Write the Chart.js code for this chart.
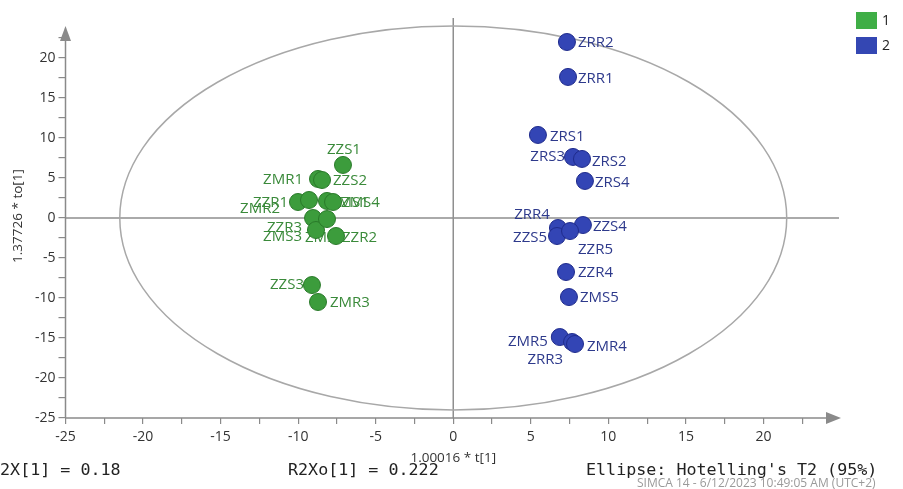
<!DOCTYPE html>
<html>
<head>
<meta charset="utf-8">
<script src="https://cdn.jsdelivr.net/npm/chart.js@4/dist/chart.umd.min.js"></script>
<style>
html,body{margin:0;padding:0;background:#fff;}
#wrap{position:relative;width:903px;height:489px;}
</style>
</head>
<body>
<div id="wrap"><canvas id="c" width="903" height="489"></canvas></div>
<script>
// ---- data ----
const group1Names = ['ZZS1','ZMR1','ZZS2','ZMR2','ZZR1','ZMS1','ZMS4','ZZR3','ZMS3','ZMS2','ZZR2','ZZS3','ZMR3'];
const group1X = [-7.11,-8.72,-8.46,-10.01,-9.30,-8.14,-7.75,-9.04,-8.85,-8.14,-7.56,-9.11,-8.72];
const group1Y = [6.63,4.88,4.75,2.0,2.25,2.13,2.0,0.0,-1.5,-0.13,-2.25,-8.38,-10.5];

const group2Names = ['ZRR2','ZRR1','ZRS1','ZRS3','ZRS2','ZRS4','ZRR4','ZZS4','ZZS5','ZZR5','ZZR4','ZMS5','ZMR5','ZRR3','ZMR4'];
const group2X = [7.33,7.40,5.46,7.72,8.30,8.49,6.75,8.36,6.69,7.53,7.27,7.46,6.87,7.66,7.85];
const group2Y = [22.0,17.63,10.38,7.63,7.38,4.63,-1.25,-0.88,-2.25,-1.63,-6.75,-9.88,-14.88,-15.5,-15.75];

const legendLabels = ['1','2'];
const xTitle = '1.00016 * t[1]';
const yTitle = '1.37726 * to[1]';
const footerTexts = ['R2X[1] = 0.18','R2Xo[1] = 0.222',"Ellipse: Hotelling's T2 (95%)"];
const stampText = 'SIMCA 14 - 6/12/2023 10:49:05 AM (UTC+2)';
const ellipseRX = 21.5, ellipseRY = 24;
const axisMin = -25, axisMax = 25;

// ---- label placement (layout only) ----
const labelPlace = {
  ZZS1:[-16,-15,'left'], ZMR1:[-15,1,'right'], ZZS2:[11,1,'left'], ZMR2:[-18,7,'right'],
  ZZR1:[-21,3,'right'], ZMS1:[3,2,'left'], ZMS4:[8,1,'left'], ZZR3:[-11,10,'right'],
  ZMS3:[-14,7,'right'], ZMS2:[-22,19,'left'], ZZR2:[6,2,'left'], ZZS3:[-8,0,'right'], ZMR3:[12,1,'left'],
  ZRR2:[11,1,'left'], ZRR1:[10,2,'left'], ZRS1:[12,2,'left'], ZRS3:[-8,0,'right'], ZRS2:[10,3,'left'],
  ZRS4:[10,2,'left'], ZRR4:[-8,-13,'right'], ZZS4:[10,2,'left'], ZZS5:[-10,2,'right'], ZZR5:[8,19,'left'],
  ZZR4:[12,1,'left'], ZMS5:[11,1,'left'], ZMR5:[-12,5,'right'], ZRR3:[-9,18,'right'], ZMR4:[12,3,'left']
};

const GREEN = '#3c9c3c', GREEN_BORDER = '#2a7a2a', GREEN_TEXT = '#3a8a3a', GREEN_LEG = '#3fae46';
const BLUE = '#3345b5', BLUE_BORDER = '#1f2b8c', BLUE_TEXT = '#2e3a8c', BLUE_LEG = '#3447b3';
const AXIS = '#8a8a8a';
const SANS = '"Open Sans", "Noto Sans", sans-serif';

function toPts(xs, ys, names){ return xs.map((x,i)=>({x:x, y:ys[i], name:names[i]})); }

const decor = {
  id:'decor',
  beforeDatasetsDraw(chart){
    const ctx = chart.ctx, xs = chart.scales.x, ys = chart.scales.y, a = chart.chartArea;
    ctx.save();
    // crosshair
    ctx.strokeStyle = '#8f8f8f'; ctx.lineWidth = 1.5;
    ctx.beginPath();
    ctx.moveTo(xs.getPixelForValue(0), a.top); ctx.lineTo(xs.getPixelForValue(0), a.bottom);
    ctx.moveTo(a.left, ys.getPixelForValue(0)); ctx.lineTo(a.right-2, ys.getPixelForValue(0));
    ctx.stroke();
    // ellipse
    const cx = xs.getPixelForValue(0), cy = ys.getPixelForValue(0);
    const rx = xs.getPixelForValue(ellipseRX) - cx, ry = cy - ys.getPixelForValue(ellipseRY);
    ctx.strokeStyle = '#a8a8a8'; ctx.lineWidth = 1.5;
    ctx.beginPath(); ctx.ellipse(cx, cy, rx, ry, 0, 0, Math.PI*2); ctx.stroke();
    // axes with arrows
    ctx.strokeStyle = AXIS; ctx.fillStyle = AXIS; ctx.lineWidth = 1.5;
    ctx.beginPath();
    ctx.moveTo(a.left, a.bottom); ctx.lineTo(a.left, a.top+14);
    ctx.moveTo(a.left, a.bottom); ctx.lineTo(a.right-12, a.bottom);
    ctx.stroke();
    ctx.beginPath();
    ctx.moveTo(a.left, a.top+8); ctx.lineTo(a.left-5.5, a.top+23); ctx.lineTo(a.left+5.5, a.top+23); ctx.closePath(); ctx.fill();
    ctx.beginPath();
    ctx.moveTo(a.right, a.bottom); ctx.lineTo(a.right-15, a.bottom-6); ctx.lineTo(a.right-15, a.bottom+6); ctx.closePath(); ctx.fill();
    // point labels (under markers)
    ctx.font = '15px ' + SANS;
    ctx.textBaseline = 'middle';
    chart.data.datasets.forEach((ds, di)=>{
      ctx.fillStyle = di === 0 ? GREEN_TEXT : BLUE_TEXT;
      ds.data.forEach(p=>{
        const pl = labelPlace[p.name] || [10,0,'left'];
        ctx.textAlign = pl[2];
        ctx.fillText(p.name, xs.getPixelForValue(p.x)+pl[0], ys.getPixelForValue(p.y)+pl[1]);
      });
    });
    ctx.restore();
  },
  afterDraw(chart){
    const ctx = chart.ctx, a = chart.chartArea;
    ctx.save();
    // axis titles
    ctx.fillStyle = '#333';
    ctx.font = '13.5px ' + SANS;
    ctx.textAlign = 'center'; ctx.textBaseline = 'middle';
    ctx.fillText(xTitle, chart.scales.x.getPixelForValue(0), 458);
    ctx.save(); ctx.translate(18, 216); ctx.rotate(-Math.PI/2); ctx.fillText(yTitle, 0, 0); ctx.restore();
    // footer
    ctx.font = '16.7px "DejaVu Sans Mono", "Liberation Mono", monospace';
    ctx.textAlign = 'left'; ctx.fillStyle = '#222';
    ctx.fillText(footerTexts[0], -10, 471);
    ctx.fillText(footerTexts[1], 288, 471);
    ctx.fillText(footerTexts[2], 586, 471, 294);
    ctx.font = '12px ' + SANS;
    ctx.fillStyle = '#9a9a9a';
    ctx.fillText(stampText, 637, 484, 262);
    // legend
    const leg = [[GREEN_LEG, 12], [BLUE_LEG, 37]];
    ctx.font = '14px ' + SANS;
    leg.forEach((l,i)=>{
      ctx.fillStyle = l[0]; ctx.fillRect(856, l[1], 21, 17);
      ctx.fillStyle = '#222'; ctx.fillText(legendLabels[i], 882, l[1]+9);
    });
    ctx.restore();
  }
};

function tickCb(v){ return (Math.abs(v % 5) < 1e-9 && v !== axisMax) ? String(v) : ''; }
function dropMax(s){ s.ticks = s.ticks.filter(t => t.value < axisMax - 1e-9); }

new Chart(document.getElementById('c'), {
  type: 'scatter',
  data: {
    datasets: [
      { label: legendLabels[0], data: toPts(group1X, group1Y, group1Names),
        backgroundColor: GREEN, borderColor: GREEN_BORDER, borderWidth: 1, pointRadius: 8.5 },
      { label: legendLabels[1], data: toPts(group2X, group2Y, group2Names),
        backgroundColor: BLUE, borderColor: BLUE_BORDER, borderWidth: 1, pointRadius: 8.5 }
    ]
  },
  options: {
    responsive: false, animation: false,
    layout: { padding: { left: 0, right: 62, top: 18, bottom: 0 } },
    plugins: { legend: { display: false }, tooltip: { enabled: false } },
    scales: {
      x: {
        type: 'linear', position: 'bottom', min: axisMin, max: axisMax,
        afterBuildTicks: dropMax,
        afterFit: s => { s.height = 71; },
        ticks: { stepSize: 2.5, callback: tickCb, autoSkip: false, maxRotation: 0,
                 color: '#333', padding: 5, font: { size: 14, family: SANS } },
        grid: { drawOnChartArea: false, drawTicks: true, tickLength: 6, color: AXIS, lineWidth: 1.2 },
        border: { display: false }
      },
      y: {
        type: 'linear', position: 'left', min: axisMin, max: axisMax,
        afterBuildTicks: dropMax,
        afterFit: s => { s.width = 65.5; },
        ticks: { stepSize: 2.5, callback: tickCb, autoSkip: false,
                 color: '#333', padding: 3, font: { size: 14, family: SANS } },
        grid: { drawOnChartArea: false, drawTicks: true, tickLength: 7, color: AXIS, lineWidth: 1.2 },
        border: { display: false }
      }
    }
  },
  plugins: [decor]
});
</script>
</body>
</html>
